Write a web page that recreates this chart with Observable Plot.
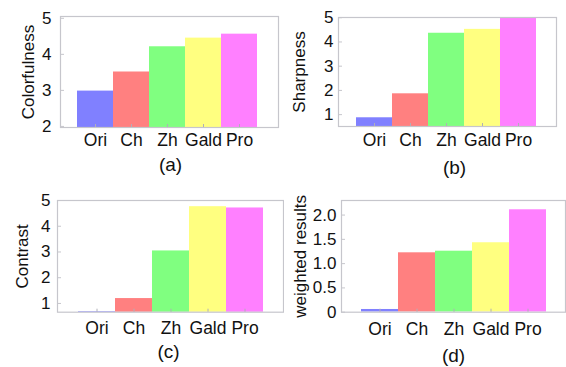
<!DOCTYPE html>
<html>
<head>
<meta charset="utf-8">
<script src="https://cdn.jsdelivr.net/npm/d3@7"></script>
<script src="https://cdn.jsdelivr.net/npm/@observablehq/plot@0.6"></script>
<style>
  html, body { margin: 0; padding: 0; background: #fff; }
  #root { position: relative; width: 566px; height: 367px; overflow: hidden; }
  #root svg { position: absolute; background: transparent; }
</style>
</head>
<body>
<div id="root"></div>
<script>
const methods = ["Ori", "Ch", "Zh", "Gald", "Pro"];
const barColors = ["#8080ff", "#ff8080", "#80ff80", "#ffff80", "#ff80ff"];

const colorfulness = [2.98, 3.51, 4.21, 4.45, 4.56];
const sharpness = [0.87, 1.86, 4.36, 4.52, 4.98];
const contrast = [0.68, 1.19, 3.04, 4.76, 4.71];
const weighted = [0.056, 1.223, 1.256, 1.43, 2.109];

const ticksA = [2, 3, 4, 5];
const ticksB = [1, 2, 3, 4, 5];
const ticksC = [1, 2, 3, 4, 5];
const ticksD = [0, 0.5, 1, 1.5, 2];
const tickLabelsD = ["0", "0.5", "1.0", "1.5", "2.0"];

const panels = [
  {values: colorfulness, label: "Colorfulness", caption: "(a)", ticks: ticksA, fmt: d => String(d),
   left: 0, top: 0, width: 283, height: 184, m: [16, 5, 57, 60], xRange: [76, 258], yDomain: [1.97, 5.05],
   labelOffset: 39, yGap: 9, xGap: 6, capOffset: 43, capDx: 1},
  {values: sharpness, label: "Sharpness", caption: "(b)", ticks: ticksB, fmt: d => String(d),
   left: 283, top: 0, width: 283, height: 184, m: [17, 10, 58, 55], xRange: [71.7, 253.3], yDomain: [0.51, 5.01],
   labelOffset: 45.5, yGap: 5, xGap: 7, capOffset: 47, capDx: 7},
  {values: contrast, label: "Contrast", caption: "(c)", ticks: ticksC, fmt: d => String(d),
   left: 0, top: 184, width: 284, height: 183, m: [16, 1, 55.3, 57], xRange: [76, 264.3], yDomain: [0.66, 5.0],
   labelOffset: 42, yGap: 7, xGap: 9, capOffset: 45.5, capDx: -2},
  {values: weighted, label: "weighted results", caption: "(d)", ticks: ticksD, fmt: d => tickLabelsD[ticksD.indexOf(d)],
   left: 283, top: 184, width: 283, height: 183, m: [16, 1, 55.3, 58], xRange: [77.3, 264.3], yDomain: [0, 2.3],
   labelOffset: 47.5, yGap: 5, xGap: 10, capOffset: 50, capDx: 0}
];

const root = document.getElementById("root");

for (const p of panels) {
  const data = methods.map((m, i) => ({method: m, value: p.values[i], color: barColors[i]}));
  const chart = Plot.plot({
    width: p.width,
    height: p.height,
    marginTop: p.m[0],
    marginRight: p.m[1],
    marginBottom: p.m[2],
    marginLeft: p.m[3],
    style: {fontFamily: "'Liberation Sans', Arial, sans-serif", fontSize: "17px", color: "#111", background: "transparent"},
    x: {domain: methods, range: p.xRange, padding: 0},
    y: {domain: p.yDomain},
    marks: [
      Plot.barY(data, {x: "method", y: "value", fill: "color", clip: true}),
      Plot.frame({stroke: "#c6c6cc", strokeWidth: 1.2}),
      Plot.axisY({
        ticks: p.ticks, tickFormat: p.fmt, tickSize: -4, tickPadding: p.yGap + 4,
        stroke: "#c6c6cc", fill: "#111",
        label: p.label, labelAnchor: "center", labelOffset: p.labelOffset, labelArrow: "none"
      }),
      Plot.axisX({
        tickSize: -3, tickPadding: p.xGap + 3, stroke: "#b0b0b8", fill: "#111", label: null, fontSize: 17.5
      }),
      Plot.text([p.caption], {text: d => d, frameAnchor: "bottom", lineAnchor: "bottom", dy: p.capOffset, dx: p.capDx, fill: "#111", fontSize: 19})
    ]
  });
  chart.style.left = p.left + "px";
  chart.style.top = p.top + "px";
  root.appendChild(chart);
}
</script>
</body>
</html>
